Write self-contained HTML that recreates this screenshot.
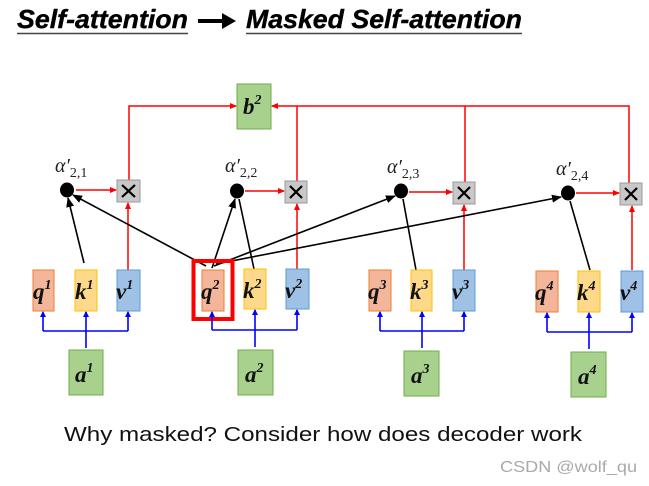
<!DOCTYPE html>
<html><head><meta charset="utf-8"><style>
html,body{margin:0;padding:0;background:#fff;}
svg{display:block}
.t{font-family:"Liberation Sans",sans-serif;font-weight:bold;font-style:italic;}
.v{font-family:"Liberation Serif",serif;font-weight:bold;font-style:italic;font-size:23px;fill:#111;}
.al{font-family:"Liberation Serif",serif;font-style:italic;font-size:20px;fill:#222;}
</style></head><body>
<svg width="649" height="486" viewBox="0 0 649 486" xmlns="http://www.w3.org/2000/svg">
<defs>
<marker id="ar" markerWidth="7" markerHeight="6" refX="6" refY="3" orient="auto" markerUnits="userSpaceOnUse"><path d="M0,0 L7,3 L0,6z" fill="#f00"/></marker>
<marker id="ab" markerWidth="10" markerHeight="8" refX="9" refY="4" orient="auto" markerUnits="userSpaceOnUse"><path d="M0,0 L10,4 L0,8z" fill="#000"/></marker>
<marker id="au" markerWidth="6" markerHeight="6" refX="5" refY="3" orient="auto" markerUnits="userSpaceOnUse"><path d="M0,0 L6,3 L0,6z" fill="#00f"/></marker>
</defs>
<text class="t" x="17" y="28" font-size="26" textLength="171" lengthAdjust="spacingAndGlyphs" stroke="#000" stroke-width="0.4">Self-attention</text>
<line x1="17" y1="33.5" x2="188" y2="33.5" stroke="#444" stroke-width="1.5"/>
<path d="M198,19 L222,19 L222,13 L236,21 L222,29 L222,23 L198,23z" fill="#000"/>
<text class="t" x="246" y="28" font-size="26" textLength="276" lengthAdjust="spacingAndGlyphs" stroke="#000" stroke-width="0.4">Masked Self-attention</text>
<line x1="246" y1="33.5" x2="522" y2="33.5" stroke="#444" stroke-width="1.5"/>

<rect x="237" y="84" width="34" height="45" fill="#a9d18e" stroke="#70ad47"/>
<text class="v" x="243" y="114">b<tspan font-size="14" dy="-10">2</tspan></text>
<g stroke="#f00" stroke-width="1.5" fill="none">
<path d="M129,180 V106 H236" marker-end="url(#ar)"/>
<path d="M629,183 V106 H272" marker-end="url(#ar)"/>
<path d="M297,181 V106"/>
<path d="M465,182 V106"/>
<line x1="76" y1="190" x2="116" y2="190" marker-end="url(#ar)"/>
<line x1="245" y1="191" x2="284" y2="191" marker-end="url(#ar)"/>
<line x1="409" y1="192" x2="452" y2="192" marker-end="url(#ar)"/>
<line x1="576" y1="193" x2="619" y2="193" marker-end="url(#ar)"/>
<line x1="128" y1="270" x2="128" y2="203" marker-end="url(#ar)"/>
<line x1="297" y1="269" x2="297" y2="204" marker-end="url(#ar)"/>
<line x1="464" y1="270" x2="464" y2="205" marker-end="url(#ar)"/>
<line x1="632" y1="270" x2="632" y2="206" marker-end="url(#ar)"/>
</g>
<g fill="#c8c8c8" stroke="#999">
<rect x="117" y="180" width="23" height="22"/>
<rect x="285" y="181" width="22" height="22"/>
<rect x="453" y="182" width="22" height="22"/>
<rect x="620" y="183" width="22" height="22"/>
</g>
<g stroke="#000" stroke-width="2.2">
<path d="M122,185 l13,12 M135,185 l-13,12"/>
<path d="M290,186 l12,12 M302,186 l-12,12"/>
<path d="M458,187 l12,12 M470,187 l-12,12"/>
<path d="M625,188 l12,12 M637,188 l-12,12"/>
</g>
<g fill="#000">
<ellipse cx="67" cy="190" rx="7" ry="7.5"/>
<ellipse cx="237" cy="191" rx="7" ry="7.5"/>
<ellipse cx="401" cy="191" rx="7" ry="7.5"/>
<ellipse cx="568" cy="193" rx="7" ry="7.5"/>
</g>
<text class="al" x="55" y="172">α′<tspan font-size="14" font-style="normal" dy="5">2,1</tspan></text>
<text class="al" x="225" y="172">α′<tspan font-size="14" font-style="normal" dy="5">2,2</tspan></text>
<text class="al" x="387" y="173">α′<tspan font-size="14" font-style="normal" dy="5">2,3</tspan></text>
<text class="al" x="556" y="175">α′<tspan font-size="14" font-style="normal" dy="5">2,4</tspan></text>
<g stroke="#000" stroke-width="1.6" fill="none">
<line x1="84" y1="263" x2="68" y2="198" marker-end="url(#ab)"/>
<line x1="206" y1="266" x2="73" y2="195" marker-end="url(#ab)"/>
<line x1="212" y1="268" x2="235" y2="199" marker-end="url(#ab)"/>
<line x1="254" y1="269" x2="239" y2="199"/>
<line x1="214" y1="266" x2="395" y2="196" marker-end="url(#ab)"/>
<line x1="416" y1="270" x2="403" y2="199"/>
<line x1="216" y1="264" x2="561" y2="197" marker-end="url(#ab)"/>
<line x1="590" y1="270" x2="570" y2="201"/>
</g>
<g>
<rect x="33" y="270" width="21" height="41" fill="#f4b69a" stroke="#ed7d31"/>
<rect x="75" y="270" width="22" height="41" fill="#ffd98a" stroke="#ffc000"/>
<rect x="117" y="270" width="23" height="41" fill="#9fc1e6" stroke="#5b9bd5"/>
<rect x="202" y="270" width="22" height="41" fill="#f4b69a" stroke="#ed7d31"/>
<rect x="244" y="269" width="22" height="40" fill="#ffd98a" stroke="#ffc000"/>
<rect x="286" y="269" width="23" height="40" fill="#9fc1e6" stroke="#5b9bd5"/>
<rect x="369" y="270" width="22" height="41" fill="#f4b69a" stroke="#ed7d31"/>
<rect x="411" y="270" width="21" height="41" fill="#ffd98a" stroke="#ffc000"/>
<rect x="453" y="270" width="22" height="41" fill="#9fc1e6" stroke="#5b9bd5"/>
<rect x="536" y="271" width="22" height="41" fill="#f4b69a" stroke="#ed7d31"/>
<rect x="578" y="271" width="22" height="41" fill="#ffd98a" stroke="#ffc000"/>
<rect x="621" y="271" width="22" height="41" fill="#9fc1e6" stroke="#5b9bd5"/>
</g>
<rect x="193.5" y="261" width="39" height="58" fill="none" stroke="#f00" stroke-width="4"/>
<g class="v">
<text x="33" y="299">q<tspan font-size="14" dy="-10">1</tspan></text>
<text x="75" y="299">k<tspan font-size="14" dy="-10">1</tspan></text>
<text x="116" y="299">v<tspan font-size="14" dy="-10">1</tspan></text>
<text x="201" y="299">q<tspan font-size="14" dy="-10">2</tspan></text>
<text x="243" y="298">k<tspan font-size="14" dy="-10">2</tspan></text>
<text x="285" y="298">v<tspan font-size="14" dy="-10">2</tspan></text>
<text x="368" y="299">q<tspan font-size="14" dy="-10">3</tspan></text>
<text x="410" y="299">k<tspan font-size="14" dy="-10">3</tspan></text>
<text x="452" y="299">v<tspan font-size="14" dy="-10">3</tspan></text>
<text x="535" y="300">q<tspan font-size="14" dy="-10">4</tspan></text>
<text x="577" y="300">k<tspan font-size="14" dy="-10">4</tspan></text>
<text x="620" y="300">v<tspan font-size="14" dy="-10">4</tspan></text>
</g>
<g stroke="#00f" stroke-width="1.6" fill="none">
<path d="M86,348 V312" marker-end="url(#au)"/><path d="M43,331 H128"/><path d="M43,331 V312" marker-end="url(#au)"/><path d="M128,331 V312" marker-end="url(#au)"/>
<path d="M255,347 V310" marker-end="url(#au)"/><path d="M212,330 H297"/><path d="M212,330 V312" marker-end="url(#au)"/><path d="M297,330 V310" marker-end="url(#au)"/>
<path d="M422,348 V312" marker-end="url(#au)"/><path d="M380,331 H464"/><path d="M380,331 V312" marker-end="url(#au)"/><path d="M464,331 V312" marker-end="url(#au)"/>
<path d="M589,349 V313" marker-end="url(#au)"/><path d="M547,332 H632"/><path d="M547,332 V313" marker-end="url(#au)"/><path d="M632,332 V313" marker-end="url(#au)"/>
</g>
<g fill="#a9d18e" stroke="#70ad47">
<rect x="69" y="350" width="34" height="45"/>
<rect x="238" y="350" width="35" height="45"/>
<rect x="404" y="351" width="35" height="45"/>
<rect x="571" y="352" width="35" height="45"/>
</g>
<g class="v">
<text x="75" y="382">a<tspan font-size="14" dy="-10">1</tspan></text>
<text x="245" y="382">a<tspan font-size="14" dy="-10">2</tspan></text>
<text x="411" y="383">a<tspan font-size="14" dy="-10">3</tspan></text>
<text x="578" y="384">a<tspan font-size="14" dy="-10">4</tspan></text>
</g>
<text x="64" y="441" font-family="Liberation Sans, sans-serif" font-size="20" fill="#111" textLength="518" lengthAdjust="spacingAndGlyphs">Why masked?  Consider how does decoder work</text>
<text x="500" y="472" font-family="Liberation Sans, sans-serif" font-size="16" fill="#aaa" textLength="137" lengthAdjust="spacingAndGlyphs">CSDN @wolf_qu</text>
</svg>
</body></html>
